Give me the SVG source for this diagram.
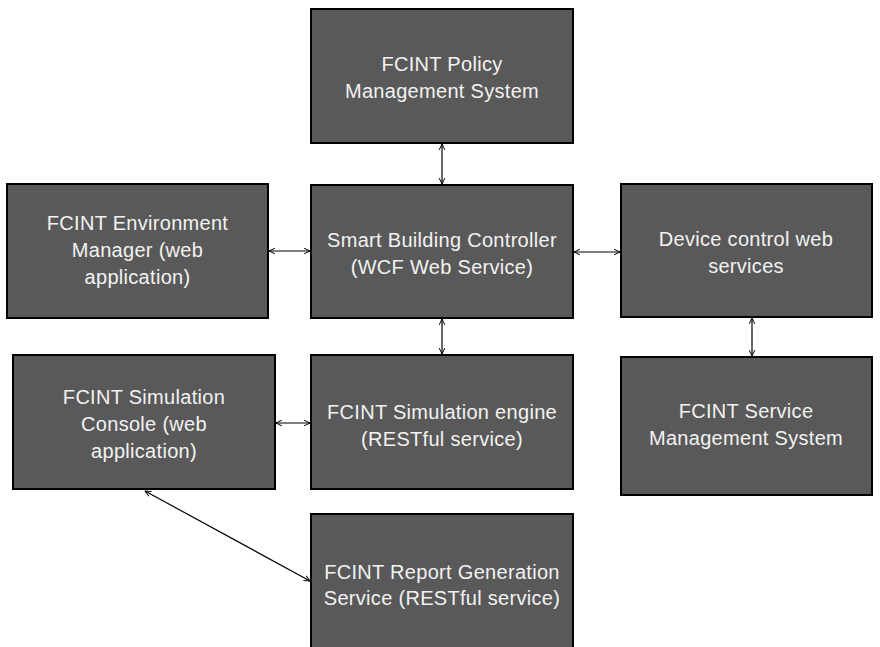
<svg xmlns="http://www.w3.org/2000/svg" width="880" height="647" viewBox="0 0 880 647">
<defs>
<marker id="ah" viewBox="0 0 10 10" refX="9.5" refY="5" markerWidth="7" markerHeight="7" markerUnits="userSpaceOnUse" orient="auto-start-reverse">
<path d="M1,1 L9.5,5 L1,9" fill="none" stroke="#000" stroke-width="1.4"/>
</marker>
<style>
.box{fill:#595959;stroke:#000;stroke-width:2}
.t{font-family:"Liberation Sans",Arial,sans-serif;font-size:20px;letter-spacing:0.3px;fill:#f2f2f2;text-anchor:middle}
.c{stroke:#000;stroke-width:1.2;fill:none;marker-start:url(#ah);marker-end:url(#ah)}
</style>
</defs>
<rect width="880" height="647" fill="#fff"/>
<g id="connectors">
<line class="c" x1="442" y1="144" x2="442" y2="184"/>
<line class="c" x1="269" y1="251" x2="310" y2="251"/>
<line class="c" x1="574" y1="252" x2="620" y2="252"/>
<line class="c" x1="442" y1="319" x2="442" y2="354"/>
<line class="c" x1="752" y1="318" x2="752" y2="356"/>
<line class="c" x1="276" y1="423" x2="310" y2="423"/>
<line class="c" x1="145" y1="491" x2="310" y2="581"/>
</g>
<g id="policy">
<rect class="box" x="311" y="9" width="262" height="134"/>
<text class="t" x="442" y="71">FCINT Policy</text>
<text class="t" x="442" y="98">Management System</text>
</g>
<g id="env-manager">
<rect class="box" x="7" y="184" width="261" height="134"/>
<text class="t" x="137.5" y="230">FCINT Environment</text>
<text class="t" x="137.5" y="257">Manager (web</text>
<text class="t" x="137.5" y="284">application)</text>
</g>
<g id="smart-building">
<rect class="box" x="311" y="185" width="262" height="133"/>
<text class="t" x="442" y="247">Smart Building Controller</text>
<text class="t" x="442" y="274">(WCF Web Service)</text>
</g>
<g id="device-control">
<rect class="box" x="621" y="184" width="251" height="133"/>
<text class="t" x="746" y="246">Device control web</text>
<text class="t" x="746" y="273">services</text>
</g>
<g id="sim-console">
<rect class="box" x="13" y="355" width="262" height="134"/>
<text class="t" x="144" y="404">FCINT Simulation</text>
<text class="t" x="144" y="431">Console (web</text>
<text class="t" x="144" y="458">application)</text>
</g>
<g id="sim-engine">
<rect class="box" x="311" y="355" width="262" height="134"/>
<text class="t" x="442" y="419">FCINT Simulation engine</text>
<text class="t" x="442" y="446">(RESTful service)</text>
</g>
<g id="service-mgmt">
<rect class="box" x="621" y="357" width="251" height="138"/>
<text class="t" x="746" y="418">FCINT Service</text>
<text class="t" x="746" y="445">Management System</text>
</g>
<g id="report">
<rect class="box" x="311" y="514" width="262" height="140"/>
<text class="t" x="442" y="579">FCINT Report Generation</text>
<text class="t" x="442" y="605">Service (RESTful service)</text>
</g>
</svg>
